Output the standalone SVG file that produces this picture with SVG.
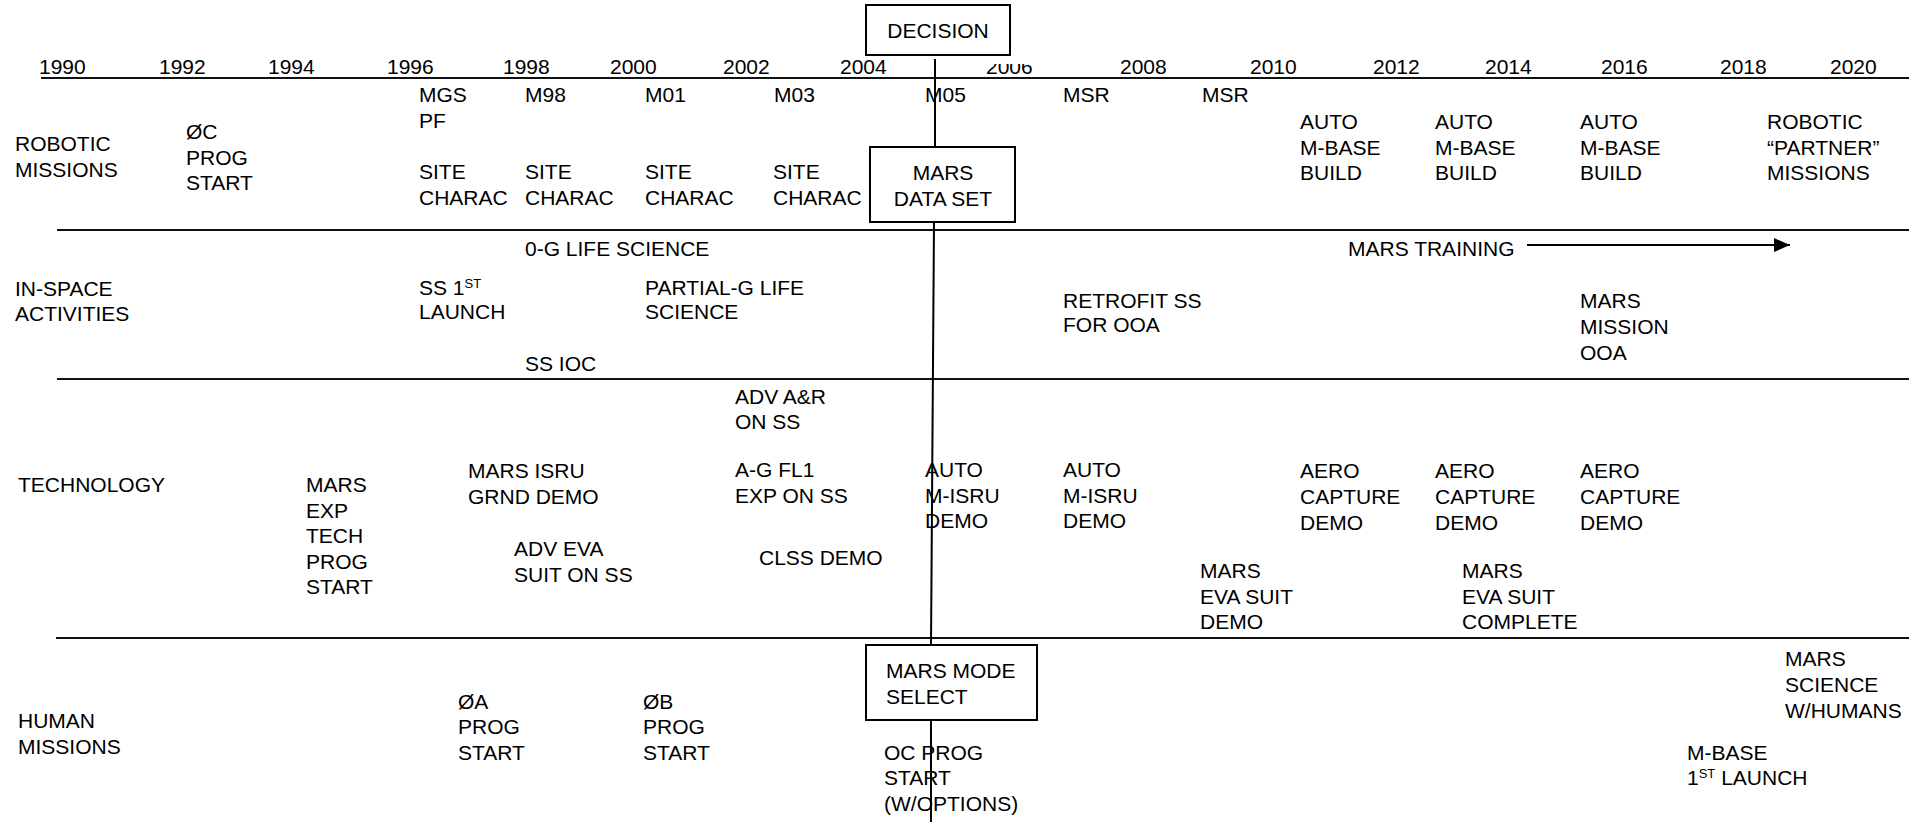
<svg xmlns="http://www.w3.org/2000/svg" width="1909" height="822" viewBox="0 0 1909 822">
<style>
text{font-family:"Liberation Sans",Arial,sans-serif;font-size:21px;fill:#000}
.rule{stroke:#111;stroke-width:2.2;fill:none}
.box{fill:#fff;stroke:#000;stroke-width:2}
.conn{stroke:#000;stroke-width:2;fill:none}
.sup{font-size:13px}
.mid{text-anchor:middle}
</style>
<defs>
<marker id="ah" markerWidth="16" markerHeight="14" refX="16" refY="7" orient="auto" markerUnits="userSpaceOnUse" viewBox="0 0 16 14">
<path d="M0,0 L16,7 L0,14 z" fill="#000"/>
</marker>
<clipPath id="clip2006"><rect x="980" y="64" width="60" height="20"/></clipPath>
</defs>
<rect width="1909" height="822" fill="#fff"/>

<g id="grid">
<line class="rule" x1="41" y1="78" x2="1909" y2="78"/>
<line class="rule" x1="57" y1="230" x2="1909" y2="230"/>
<line class="rule" x1="57" y1="379" x2="1909" y2="379"/>
<line class="rule" x1="56" y1="638" x2="1909" y2="638"/>
</g>

<g id="years">
<text x="39" y="74">1990</text>
<text x="159" y="74">1992</text>
<text x="268" y="74">1994</text>
<text x="387" y="74">1996</text>
<text x="503" y="74">1998</text>
<text x="610" y="74">2000</text>
<text x="723" y="74">2002</text>
<text x="840" y="74">2004</text>
<text x="986" y="74" clip-path="url(#clip2006)">2006</text>
<text x="1120" y="74">2008</text>
<text x="1250" y="74">2010</text>
<text x="1373" y="74">2012</text>
<text x="1485" y="74">2014</text>
<text x="1601" y="74">2016</text>
<text x="1720" y="74">2018</text>
<text x="1830" y="74">2020</text>
</g>

<g id="connectors">
<line class="conn" x1="935" y1="59" x2="935" y2="147"/>
<line class="conn" x1="934" y1="222" x2="931" y2="645"/>
<line class="conn" x1="931" y1="720" x2="931" y2="822"/>
<line class="conn" x1="1527" y1="245" x2="1790" y2="245" marker-end="url(#ah)"/>
</g>

<g id="row-labels">
<text x="15" y="151">ROBOTIC<tspan x="15" dy="26">MISSIONS</tspan></text>
<text x="15" y="296">IN-SPACE<tspan x="15" dy="25">ACTIVITIES</tspan></text>
<text x="18" y="492">TECHNOLOGY</text>
<text x="18" y="728">HUMAN<tspan x="18" dy="26">MISSIONS</tspan></text>
</g>

<g id="decision">
<rect class="box" x="866" y="5" width="144" height="50"/>
<text class="mid" x="938" y="38">DECISION</text>
</g>

<g id="mars-data-set">
<rect class="box" x="870" y="147" width="145" height="75"/>
<text class="mid" x="943" y="180">MARS<tspan x="943" dy="26">DATA SET</tspan></text>
</g>

<g id="mars-mode-select">
<rect class="box" x="866" y="645" width="171" height="75"/>
<text x="886" y="678">MARS MODE<tspan x="886" dy="26">SELECT</tspan></text>
</g>

<g id="robotic">
<g id="oc-prog-start"><text x="186" y="139">ØC<tspan x="186" dy="26">PROG</tspan><tspan x="186" dy="25">START</tspan></text></g>
<g id="mgs-pf"><text x="419" y="102">MGS<tspan x="419" dy="26">PF</tspan></text></g>
<g id="m98"><text x="525" y="102">M98</text></g>
<g id="m01"><text x="645" y="102">M01</text></g>
<g id="m03"><text x="774" y="102">M03</text></g>
<g id="m05"><text x="925" y="102">M05</text></g>
<g id="msr1"><text x="1063" y="102">MSR</text></g>
<g id="msr2"><text x="1202" y="102">MSR</text></g>
<g id="site1"><text x="419" y="179">SITE<tspan x="419" dy="26">CHARAC</tspan></text></g>
<g id="site2"><text x="525" y="179">SITE<tspan x="525" dy="26">CHARAC</tspan></text></g>
<g id="site3"><text x="645" y="179">SITE<tspan x="645" dy="26">CHARAC</tspan></text></g>
<g id="site4"><text x="773" y="179">SITE<tspan x="773" dy="26">CHARAC</tspan></text></g>
<g id="mbase1"><text x="1300" y="129">AUTO<tspan x="1300" dy="26">M-BASE</tspan><tspan x="1300" dy="25">BUILD</tspan></text></g>
<g id="mbase2"><text x="1435" y="129">AUTO<tspan x="1435" dy="26">M-BASE</tspan><tspan x="1435" dy="25">BUILD</tspan></text></g>
<g id="mbase3"><text x="1580" y="129">AUTO<tspan x="1580" dy="26">M-BASE</tspan><tspan x="1580" dy="25">BUILD</tspan></text></g>
<g id="partner"><text x="1767" y="129">ROBOTIC<tspan x="1767" dy="26">“PARTNER”</tspan><tspan x="1767" dy="25">MISSIONS</tspan></text></g>
</g>

<g id="in-space">
<g id="zero-g"><text x="525" y="256">0-G LIFE SCIENCE</text></g>
<g id="mars-training"><text x="1348" y="256">MARS TRAINING</text></g>
<g id="ss-launch"><text x="419" y="295">SS 1<tspan class="sup" dy="-7">ST</tspan><tspan x="419" dy="31">LAUNCH</tspan></text></g>
<g id="partial-g"><text x="645" y="295">PARTIAL-G LIFE<tspan x="645" dy="24">SCIENCE</tspan></text></g>
<g id="retrofit"><text x="1063" y="308">RETROFIT SS<tspan x="1063" dy="24">FOR OOA</tspan></text></g>
<g id="mission-ooa"><text x="1580" y="308">MARS<tspan x="1580" dy="26">MISSION</tspan><tspan x="1580" dy="26">OOA</tspan></text></g>
<g id="ss-ioc"><text x="525" y="371">SS IOC</text></g>
</g>

<g id="technology">
<g id="adv-ar"><text x="735" y="404">ADV A&amp;R<tspan x="735" dy="25">ON SS</tspan></text></g>
<g id="isru-grnd"><text x="468" y="478">MARS ISRU<tspan x="468" dy="26">GRND DEMO</tspan></text></g>
<g id="ag-fl1"><text x="735" y="477">A-G FL1<tspan x="735" dy="26">EXP ON SS</tspan></text></g>
<g id="misru1"><text x="925" y="477">AUTO<tspan x="925" dy="26">M-ISRU</tspan><tspan x="925" dy="25">DEMO</tspan></text></g>
<g id="misru2"><text x="1063" y="477">AUTO<tspan x="1063" dy="26">M-ISRU</tspan><tspan x="1063" dy="25">DEMO</tspan></text></g>
<g id="aero1"><text x="1300" y="478">AERO<tspan x="1300" dy="26">CAPTURE</tspan><tspan x="1300" dy="26">DEMO</tspan></text></g>
<g id="aero2"><text x="1435" y="478">AERO<tspan x="1435" dy="26">CAPTURE</tspan><tspan x="1435" dy="26">DEMO</tspan></text></g>
<g id="aero3"><text x="1580" y="478">AERO<tspan x="1580" dy="26">CAPTURE</tspan><tspan x="1580" dy="26">DEMO</tspan></text></g>
<g id="exp-tech"><text x="306" y="492">MARS<tspan x="306" dy="25.5">EXP</tspan><tspan x="306" dy="25.5">TECH</tspan><tspan x="306" dy="25.5">PROG</tspan><tspan x="306" dy="25.5">START</tspan></text></g>
<g id="adv-eva"><text x="514" y="556">ADV EVA<tspan x="514" dy="26">SUIT ON SS</tspan></text></g>
<g id="clss"><text x="759" y="565">CLSS DEMO</text></g>
<g id="eva-demo"><text x="1200" y="578">MARS<tspan x="1200" dy="26">EVA SUIT</tspan><tspan x="1200" dy="25">DEMO</tspan></text></g>
<g id="eva-complete"><text x="1462" y="578">MARS<tspan x="1462" dy="26">EVA SUIT</tspan><tspan x="1462" dy="25">COMPLETE</tspan></text></g>
</g>

<g id="human">
<g id="oa-prog"><text x="458" y="709">ØA<tspan x="458" dy="25">PROG</tspan><tspan x="458" dy="26">START</tspan></text></g>
<g id="ob-prog"><text x="643" y="709">ØB<tspan x="643" dy="25">PROG</tspan><tspan x="643" dy="26">START</tspan></text></g>
<g id="oc-prog-options"><text x="884" y="760">OC PROG<tspan x="884" dy="25">START</tspan><tspan x="884" dy="26">(W/OPTIONS)</tspan></text></g>
<g id="science-humans"><text x="1785" y="666">MARS<tspan x="1785" dy="26">SCIENCE</tspan><tspan x="1785" dy="26">W/HUMANS</tspan></text></g>
<g id="mbase-launch"><text x="1687" y="760">M-BASE<tspan x="1687" dy="25">1</tspan><tspan class="sup" dy="-7">ST</tspan><tspan dy="7"> LAUNCH</tspan></text></g>
</g>
</svg>
